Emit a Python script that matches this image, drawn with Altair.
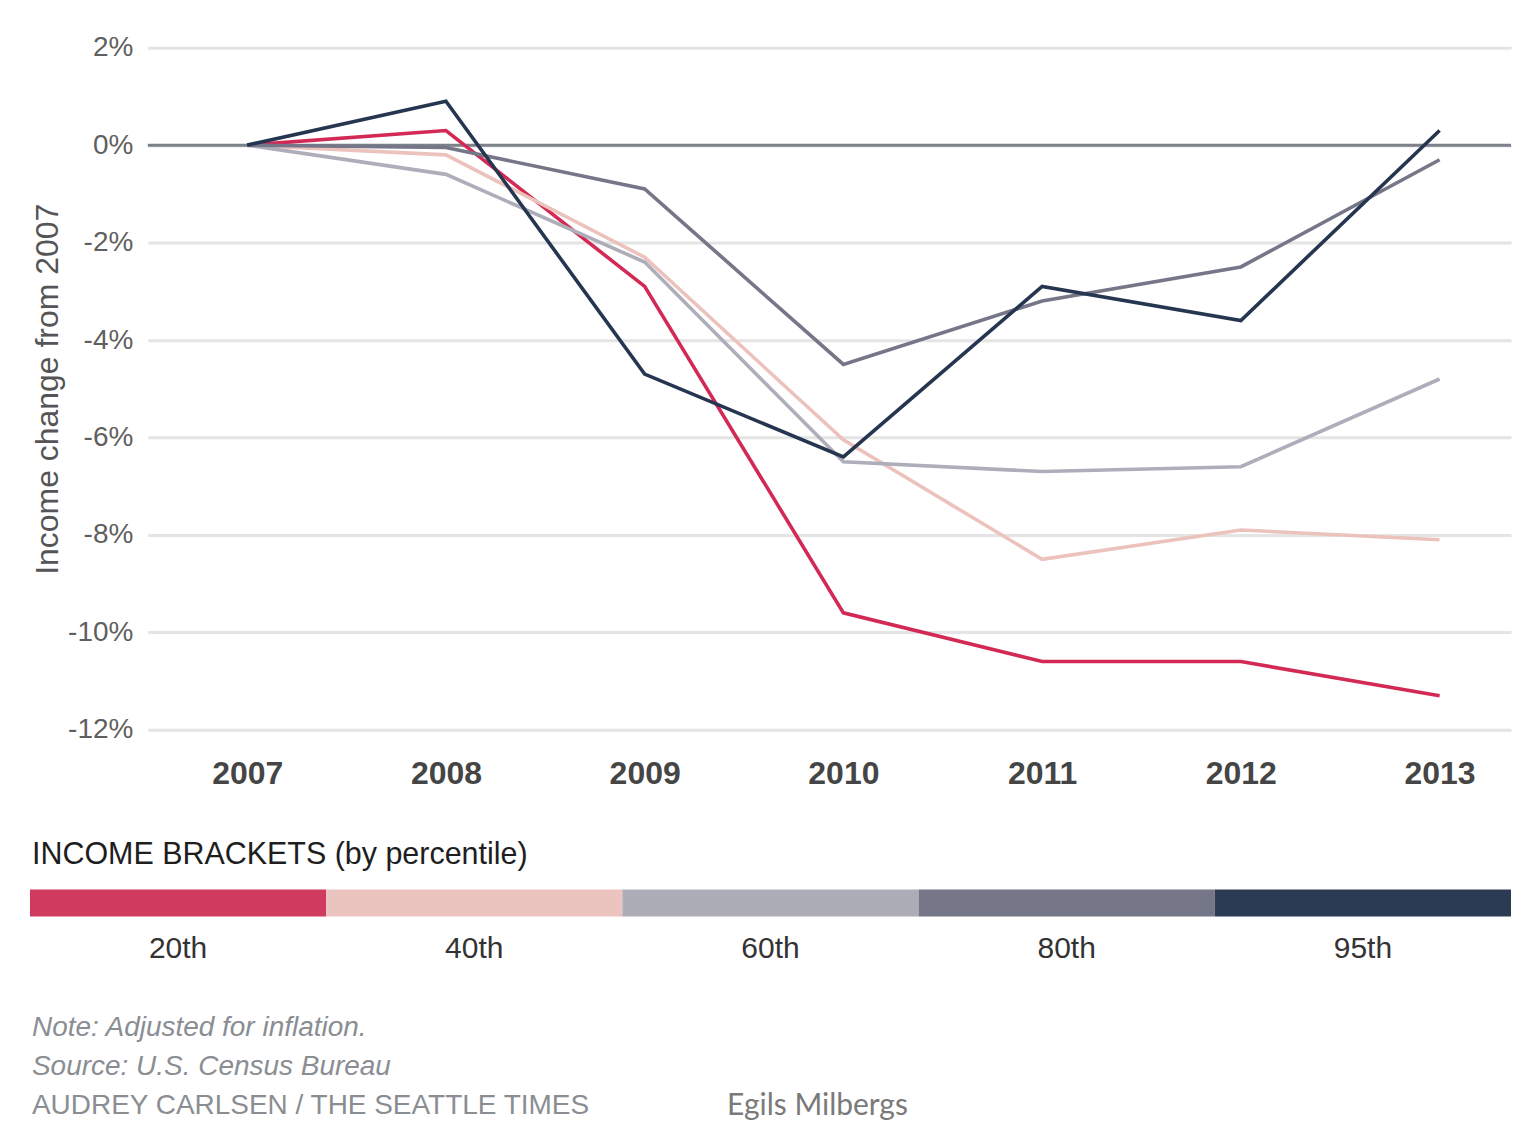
import altair as alt
import pandas as pd

# ---------------- data ----------------
years = [2007, 2008, 2009, 2010, 2011, 2012, 2013]
brackets = ["20th", "40th", "60th", "80th", "95th"]
p20 = [0.0, 0.3, -2.9, -9.6, -10.6, -10.6, -11.3]
p40 = [0.0, -0.2, -2.3, -6.05, -8.5, -7.9, -8.1]
p60 = [0.0, -0.6, -2.4, -6.5, -6.7, -6.6, -4.8]
p80 = [0.0, -0.05, -0.9, -4.5, -3.2, -2.5, -0.3]
p95 = [0.0, 0.9, -4.7, -6.4, -2.9, -3.6, 0.3]
y_ticks = [2, 0, -2, -4, -6, -8, -10, -12]

legend_colors = ["#cf3a5e", "#ebc3bf", "#adadb8", "#767689", "#2a3b53"]
line_colors = ["#d22a55", "#ecc2bd", "#aeaebb", "#767689", "#263650"]

legend_title = "INCOME BRACKETS (by percentile)"
note_lines = ["Note: Adjusted for inflation.", "Source: U.S. Census Bureau",
              "AUDREY CARLSEN / THE SEATTLE TIMES"]
watermark = "Egils Milbergs"
y_title = "Income change from 2007"

FONT = "Liberation Sans"
PLOT_W = 1365

rows = []
for b, vals in zip(brackets, [p20, p40, p60, p80, p95]):
    for yr, v in zip(years, vals):
        rows.append({"year": yr, "change": v, "bracket": b})
df = pd.DataFrame(rows)

# ---------------- main line chart ----------------
x_enc = alt.X(
    "year:Q",
    scale=alt.Scale(domain=[2006.5, 2006.5 + PLOT_W / 199.0], nice=False, zero=False),
    axis=alt.Axis(values=years, format="d", labelFontSize=32, labelFontWeight="bold",
                  labelColor="#454545", labelFont=FONT, ticks=False, domain=False,
                  grid=False, labelPadding=29, title=None),
)
y_enc = alt.Y(
    "change:Q",
    scale=alt.Scale(domain=[-12, 2], nice=False, zero=False),
    axis=alt.Axis(values=y_ticks, labelExpr="datum.value + '%'", labelFontSize=28,
                  labelColor="#5f5f5f", labelFont=FONT, ticks=False, domain=False,
                  gridColor="#e4e4e4", gridWidth=3, labelPadding=15,
                  title=y_title, titleFontSize=32, titleFont=FONT,
                  titleFontWeight="normal", titleColor="#555555",
                  titleX=-100, titleY=341.5, titleAngle=270,
                  titleBaseline="middle", titleAlign="center"),
)

zero = alt.Chart(pd.DataFrame({"zero": [0]})).mark_rule(
    color="#7c8088", strokeWidth=3
).encode(y=alt.Y("zero:Q"))

lines = alt.Chart(df).mark_line(strokeWidth=3.6).encode(
    x=x_enc,
    y=y_enc,
    color=alt.Color("bracket:N", scale=alt.Scale(domain=brackets, range=line_colors),
                    legend=None),
    order=alt.Order("year:Q"),
)

top = alt.layer(zero, lines).properties(width=PLOT_W, height=683)

# ---------------- legend strip + notes ----------------
# the strip starts 118px left of the plot area and ends at its right edge
leg_df = pd.DataFrame({"bracket": brackets, "color": legend_colors})
bx = alt.X("bracket:N", sort=brackets,
           scale=alt.Scale(range=[-118, PLOT_W], paddingInner=0, paddingOuter=0),
           axis=None)

bars = alt.Chart(leg_df).mark_rect().encode(
    x=bx, y=alt.value(58), y2=alt.value(85),
    color=alt.Color("color:N", scale=None),
)
bar_labels = alt.Chart(leg_df).mark_text(
    fontSize=30, font=FONT, color="#333333", baseline="middle"
).encode(x=bx, y=alt.value(118), text="bracket:N")

def text_layer(txt, xv, yv, **kw):
    return alt.Chart(pd.DataFrame({"t": [txt]})).mark_text(
        align="left", baseline="middle", **kw
    ).encode(x=alt.value(xv), y=alt.value(yv), text="t:N")

leg_title = text_layer(legend_title, -116, 23, fontSize=30.5, font=FONT, color="#1e1e1e")
note1 = text_layer(note_lines[0], -116, 197, fontSize=28, font=FONT, color="#8a8e93",
                   fontStyle="italic")
note2 = text_layer(note_lines[1], -116, 236, fontSize=28, font=FONT, color="#8a8e93",
                   fontStyle="italic")
note3 = text_layer(note_lines[2], -116, 275, fontSize=28, font=FONT, color="#8a8e93")
wm = text_layer(watermark, 580, 275, fontSize=30, font="Lato", color="#7a7a7a")

bottom = alt.layer(bars, bar_labels, leg_title, note1, note2, note3, wm).properties(
    width=PLOT_W, height=284
)

chart = alt.vconcat(top, bottom, spacing=42).resolve_scale(
    x="independent", y="independent", color="independent"
).configure_view(stroke=None).properties(
    padding={"left": 22, "top": 25, "right": 0, "bottom": 0},
    background="white",
)

chart.save("out.html", embed_options={"renderer": "svg", "actions": False})
